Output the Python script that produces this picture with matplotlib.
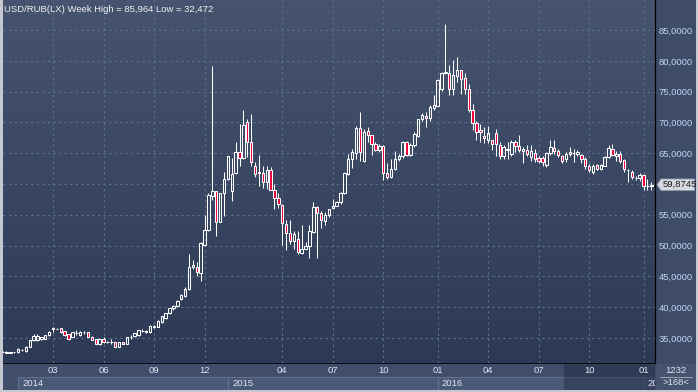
import numpy as np
import matplotlib
matplotlib.use("Agg")
import matplotlib.pyplot as plt
from matplotlib.colors import LinearSegmentedColormap
from matplotlib.patches import Rectangle, Polygon

# weekly USD/RUB candles (oldest first)
opens = [32.75, 32.78, 32.62, 32.68, 32.70, 33.00, 32.80, 33.50, 34.60, 34.70,
         34.75, 34.80, 35.40, 36.50, 36.50, 36.60, 36.10, 35.60, 35.20, 35.75,
         35.40, 35.90, 35.90, 35.20, 34.80, 34.00, 34.80, 34.35, 34.35, 34.35,
         33.60, 34.35, 34.00, 35.10, 35.30, 35.40, 36.15, 36.00, 35.90, 36.85,
         36.85, 37.60, 38.20, 39.00, 39.80, 40.20, 41.30, 41.75, 43.00, 46.50,
         46.50, 45.60, 50.10, 52.60, 58.10, 58.80, 53.85, 58.50, 60.80, 58.90,
         61.75, 65.20, 64.20, 70.10, 66.90, 63.00, 61.90, 61.75, 60.30, 62.30,
         59.10, 57.80, 56.60, 53.50, 52.10, 50.70, 51.00, 48.80, 49.50, 49.90,
         52.20, 56.20, 55.30, 54.00, 54.90, 56.10, 56.50, 57.00, 58.50, 61.60,
         64.10, 65.00, 69.10, 63.80, 68.60, 68.00, 66.50, 65.50, 66.20, 61.80,
         61.20, 62.50, 64.10, 64.50, 66.80, 64.70, 66.40, 67.80, 70.50, 71.10,
         70.70, 72.40, 72.70, 75.50, 78.00, 78.00, 75.40, 77.60, 78.50, 77.20,
         75.50, 72.00, 69.90, 68.80, 67.80, 67.10, 67.10, 68.30, 66.30, 64.60,
         65.60, 64.90, 66.90, 66.20, 65.30, 65.60, 64.40, 65.10, 64.20, 64.20,
         63.10, 65.00, 65.80, 65.40, 64.60, 64.10, 64.90, 65.00, 64.90, 64.70,
         64.10, 63.00, 62.00, 63.10, 62.50, 63.00, 64.40, 65.70, 64.50, 64.90,
         63.90, 62.30, 61.90, 60.90, 60.90, 61.50, 59.60, 59.60]
highs = [32.85, 32.82, 32.72, 32.78, 33.40, 33.25, 33.65, 34.65, 35.60, 35.60,
         35.20, 35.55, 36.05, 36.75, 36.60, 36.65, 36.15, 35.65, 35.95, 36.30,
         36.05, 36.20, 35.95, 35.25, 34.85, 34.85, 35.10, 34.45, 34.80, 34.40,
         34.40, 34.40, 35.15, 35.40, 35.85, 36.35, 36.50, 36.30, 37.10, 37.10,
         37.85, 38.60, 39.10, 39.90, 40.30, 41.20, 42.20, 43.20, 48.60, 47.60,
         47.40, 50.60, 54.90, 58.50, 79.20, 58.90, 58.60, 61.90, 64.60, 64.30,
         66.90, 69.75, 72.00, 70.60, 71.40, 63.50, 64.70, 63.00, 63.00, 62.70,
         60.00, 58.60, 56.70, 54.20, 54.10, 52.40, 52.40, 53.30, 50.50, 53.40,
         57.10, 56.50, 55.60, 55.40, 56.00, 57.60, 57.20, 58.70, 61.90, 64.80,
         65.70, 69.50, 71.70, 69.00, 69.30, 68.00, 66.80, 66.50, 66.30, 63.40,
         64.00, 65.40, 64.90, 67.00, 67.00, 66.70, 68.40, 70.60, 71.50, 71.70,
         72.80, 74.40, 77.00, 78.20, 85.964, 79.30, 80.20, 80.70, 78.50, 78.00,
         76.30, 73.00, 70.30, 69.70, 69.30, 69.50, 67.20, 69.00, 66.80, 66.30,
         66.80, 67.20, 67.10, 67.90, 66.00, 66.40, 66.30, 65.70, 64.60, 64.60,
         65.20, 67.20, 67.10, 65.70, 64.70, 65.20, 66.00, 65.70, 65.60, 64.90,
         64.40, 63.20, 63.30, 63.30, 63.30, 64.50, 66.30, 66.50, 65.40, 65.40,
         64.10, 62.50, 62.20, 61.30, 61.80, 61.60, 60.80, 60.30]
lows = [32.68, 32.472, 32.58, 32.62, 32.60, 32.85, 32.75, 33.45, 34.50, 34.50,
        34.65, 34.75, 35.35, 35.90, 36.40, 35.85, 35.35, 34.60, 35.10, 35.40,
        35.35, 35.60, 35.15, 34.65, 33.95, 33.90, 34.25, 34.25, 34.00, 33.55,
        33.55, 33.95, 33.95, 34.80, 35.20, 35.35, 35.90, 35.80, 35.85, 36.60,
        36.80, 37.50, 38.10, 38.90, 39.60, 40.10, 41.20, 41.60, 42.80, 46.20,
        45.10, 44.20, 49.90, 52.40, 57.40, 51.60, 53.80, 54.80, 60.60, 57.30,
        61.70, 62.90, 64.10, 64.40, 63.00, 61.10, 59.70, 59.30, 59.20, 59.00,
        56.00, 56.10, 50.10, 49.30, 50.20, 49.50, 48.70, 48.70, 49.40, 48.00,
        52.10, 48.00, 52.90, 53.40, 54.70, 55.90, 56.40, 56.80, 58.40, 61.40,
        62.60, 64.10, 63.80, 63.60, 66.90, 64.70, 65.30, 65.20, 60.70, 60.80,
        61.00, 62.20, 63.80, 64.30, 64.50, 64.60, 66.00, 67.60, 70.30, 69.30,
        70.30, 72.00, 72.60, 75.10, 77.80, 74.50, 74.50, 76.50, 74.70, 74.70,
        71.70, 68.70, 67.20, 66.90, 66.70, 66.60, 65.60, 64.60, 64.00, 64.10,
        64.10, 64.60, 65.20, 65.20, 63.40, 64.60, 63.80, 63.60, 63.40, 62.90,
        62.70, 64.70, 64.90, 64.40, 63.40, 63.50, 64.50, 63.50, 64.50, 63.40,
        62.50, 61.90, 61.60, 62.20, 62.30, 62.90, 64.20, 64.50, 63.80, 63.40,
        62.00, 60.40, 60.80, 60.70, 60.50, 59.10, 59.10, 59.10]
closes = [32.77, 32.48, 32.65, 32.72, 33.20, 33.05, 33.60, 34.60, 35.30, 35.30,
          35.10, 35.50, 36.00, 36.55, 36.50, 35.90, 35.40, 34.90, 35.90, 35.80,
          36.00, 35.92, 35.20, 34.70, 34.00, 34.80, 34.30, 34.38, 34.36, 33.60,
          34.35, 34.00, 35.10, 35.12, 35.80, 36.30, 36.20, 36.05, 37.00, 36.90,
          37.80, 38.50, 39.00, 39.80, 40.20, 41.00, 41.90, 43.00, 46.50, 46.80,
          45.70, 50.40, 52.60, 58.20, 58.80, 53.85, 58.50, 60.80, 64.50, 61.60,
          65.20, 64.20, 69.60, 66.90, 63.50, 61.60, 61.85, 60.30, 62.30, 59.10,
          57.80, 56.70, 53.60, 52.00, 50.70, 51.90, 49.00, 49.50, 50.00, 52.30,
          56.20, 55.30, 54.10, 55.00, 55.90, 56.40, 57.00, 58.50, 61.80, 64.10,
          65.20, 69.10, 65.20, 68.40, 67.90, 66.50, 65.50, 66.20, 61.80, 61.20,
          62.50, 64.10, 64.60, 66.80, 64.70, 66.40, 68.20, 70.50, 71.20, 70.70,
          72.50, 72.90, 76.90, 78.10, 78.25, 75.40, 77.70, 78.50, 77.00, 75.50,
          72.00, 69.90, 68.40, 68.40, 67.50, 68.30, 66.50, 66.50, 64.60, 66.00,
          65.65, 66.80, 66.20, 65.60, 65.70, 64.90, 65.40, 64.00, 63.70, 63.50,
          65.10, 66.00, 65.30, 64.70, 63.80, 64.90, 65.20, 65.05, 65.20, 64.10,
          62.90, 62.20, 63.00, 62.50, 63.10, 64.40, 65.80, 64.70, 64.90, 63.80,
          62.40, 62.35, 61.10, 61.00, 61.50, 59.60, 59.70, 59.8745]

# time axis: candle index of the first week of each labelled month / year
month_pos = [13, 26, 39, 52, 72, 85, 98, 112, 125, 138, 151, 165]
month_lbl = ["03", "06", "09", "12", "04", "07", "10", "01", "04", "07", "10", "01"]
year_pos = [4, 58, 112, 165]
year_lbl = ["2014", "2015", "2016", "2017"]
price_ticks = [35, 40, 45, 50, 55, 60, 65, 70, 75, 80, 85]

title = "USD/RUB(LX) Week High = 85,964 Low = 32,472"
last_price = closes[-1]

W, H = 698, 392
BG_TOP, BG_BOT = "#46546f", "#2c3a56"
EDGE = "#ffffff"
RED = "#f0003a"
TXT = "#dfe6f2"
FS = 6.8

plt.rcParams["font.family"] = ["Liberation Sans", "DejaVu Sans"]


def px_rect(x0, y0, x1, y1):
    return [x0 / W, 1 - y1 / H, (x1 - x0) / W, (y1 - y0) / H]


def bare(a):
    a.set_xticks([])
    a.set_yticks([])
    for s in a.spines.values():
        s.set_visible(False)


fig = plt.figure(figsize=(W / 100, H / 100), dpi=100)
fig.patch.set_facecolor("#c4c8d0")

# right price panel background
side = fig.add_axes(px_rect(655, 0, 696, 390))
side.set_facecolor("#3e4c68")
bare(side)

xlim = (0.12, 167.95)
ylim = (30.92, 89.9)

ax = fig.add_axes(px_rect(3, 0, 655, 363))
ax.set_xlim(*xlim)
ax.set_ylim(*ylim)
grad = LinearSegmentedColormap.from_list("bg", [BG_TOP, BG_BOT])
ax.imshow(np.linspace(0, 1, 256).reshape(-1, 1), cmap=grad, aspect="auto",
          extent=[xlim[0], xlim[1], ylim[0], ylim[1]], origin="upper", zorder=0)

ax.set_xticks(month_pos)
ax.set_yticks(price_ticks)
ax.grid(True, color="#5f6f8e", lw=0.8, ls=(0, (2, 3)), zorder=1)
ax.tick_params(axis="x", length=0, labelbottom=False)
ax.yaxis.tick_right()
ax.tick_params(axis="y", length=0, pad=2.5, labelsize=FS, labelcolor="#bcd6f6")
# the 60 label sits under the last-price marker
ax.set_yticklabels(["" if v == 60 else f"{v},0000" for v in price_ticks])
for s in ["top", "left", "bottom"]:
    ax.spines[s].set_visible(False)
ax.spines["right"].set_color("#000000")
ax.spines["right"].set_linewidth(0.9)

# candles
o = np.array(opens)
h = np.array(highs)
lo = np.array(lows)
c = np.array(closes)
idx = np.arange(len(c))
body_lo = np.minimum(o, c)
body_hi = np.maximum(o, c)
up = c >= o
ax.vlines(idx, body_hi, h, color=EDGE, lw=0.75, zorder=3)
ax.vlines(idx, lo, body_lo, color=EDGE, lw=0.75, zorder=3)
ax.bar(idx[up], np.maximum(body_hi - body_lo, 0.02)[up], bottom=body_lo[up],
       width=0.62, facecolor="none", edgecolor=EDGE, lw=0.75, zorder=4)
ax.bar(idx[~up], (body_hi - body_lo)[~up], bottom=body_lo[~up],
       width=0.62, facecolor=RED, edgecolor=EDGE, lw=0.75, zorder=4)

ax.text(0.002, 0.985, title, transform=ax.transAxes, ha="left", va="top",
        fontsize=FS, color="#f0f0f0", zorder=6)

# last price marker on the price axis
lp = fig.add_axes(px_rect(655, 0, 696, 363), sharey=ax)
lp.set_xlim(0, 41)
lp.axis("off")
lp.add_patch(Polygon([[2, last_price], [6, last_price + 0.95], [39.5, last_price + 0.95],
                      [39.5, last_price - 0.95], [6, last_price - 0.95]],
                     closed=True, facecolor="#d5d9e1", edgecolor="#8a92a2", lw=0.6))
lp.text(7.5, last_price, f"{last_price:.4f}".replace(".", ","), ha="left", va="center",
        fontsize=FS, color="#1a1a1a")

# time axis
tax = fig.add_axes(px_rect(3, 363, 655, 390))
tax.set_xlim(*xlim)
tax.set_ylim(0, 2)
tax.set_facecolor("#404e6b")
bare(tax)
tax.axhline(2, color="#000000", lw=1.2)
bounds = year_pos + [xlim[1]]
for i, lbl in enumerate(year_lbl):
    tax.add_patch(Rectangle((bounds[i], 0), bounds[i + 1] - bounds[i], 1.0,
                            facecolor="#4b5978", edgecolor="#62708e", lw=0.8))
    tax.text(bounds[i] + 1.1, 0.5, lbl, ha="left", va="center", fontsize=FS, color=TXT,
             clip_on=True)
for p, lbl in zip(month_pos, month_lbl):
    tax.text(p, 1.45, lbl, ha="center", va="center", fontsize=FS, color=TXT)
tax.add_patch(Rectangle((144.5, 0), xlim[1] - 144.5, 2, facecolor="#1e2840",
                        alpha=0.45, edgecolor="none"))

# counter box in the corner
box = fig.add_axes(px_rect(656, 364, 696, 390))
box.set_xlim(0, 1)
box.set_ylim(0, 1)
box.set_facecolor("#46546f")
bare(box)
box.plot([0.1, 0.9], [0.5, 0.5], color="#a8b2c4", lw=0.6)
box.text(0.5, 0.75, "1232", ha="center", va="center", fontsize=FS, color=TXT)
box.text(0.5, 0.27, ">168<", ha="center", va="center", fontsize=FS, color=TXT)

fig.savefig("out.png", dpi=100, facecolor=fig.get_facecolor())
